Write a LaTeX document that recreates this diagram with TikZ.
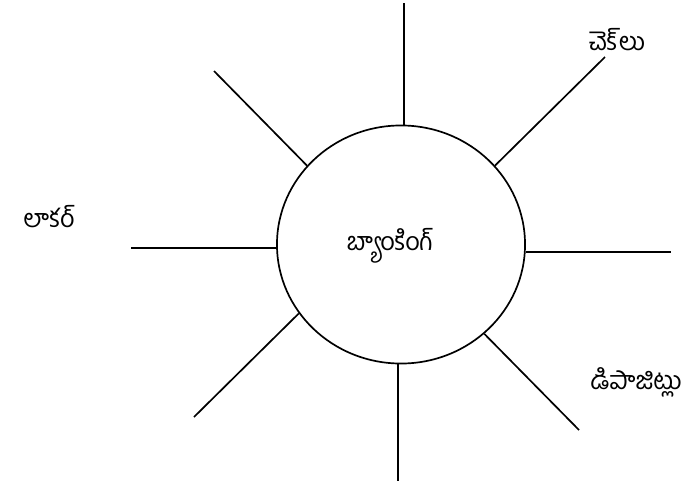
\documentclass[tikz,border=0pt]{standalone}
\usepackage{fontspec}
\newfontfamily\telugu[Script=Telugu]{Hind Guntur}
\usepackage{tikz}
\usetikzlibrary{shapes.geometric}

\begin{document}
\begin{tikzpicture}[
        x=0.025cm, y=-0.025cm,
        hub/.style={ellipse, draw, line width=1.2pt, inner sep=0pt,
                    minimum width=6.2cm, minimum height=5.95cm},
        label/.style={font=\telugu\fontsize{18}{21}\selectfont},
        spoke/.style={line width=1.2pt}
    ]
    \useasboundingbox (0,0) rectangle (686,482);
    \node [hub] (bank) at (401,244.5) {};
    \node [label] (bankname) at (390,246) {బ్యాంకింగ్};
    \node [label] (cheques) at (617,40) {చెక్^^^^200cలు};
    \node [label] (locker) at (49,217) {లాకర్};
    \node [label] (deposits) at (636,382) {డిపాజిట్లు};
    % free ends of the spokes
    \coordinate (top) at (404,3);
    \coordinate (topright) at (605,57);
    \coordinate (right) at (671,252);
    \coordinate (botright) at (579,430);
    \coordinate (bot) at (398,481);
    \coordinate (botleft) at (194,417);
    \coordinate (left) at (131,248);
    \coordinate (topleft) at (214,71);
    \draw[spoke] (top |- bank.north) -- (top);
    \draw[spoke] (bank.40)  -- (topright);
    \draw[spoke] (right -| bank.east) -- (right);
    \draw[spoke] (bank.-47) -- (botright);
    \draw[spoke] (bot |- bank.south) -- (bot);
    \draw[spoke] (bank.214) -- (botleft);
    \draw[spoke] (left -| bank.west) -- (left);
    \draw[spoke] (bank.140) -- (topleft);
\end{tikzpicture}
\end{document}
